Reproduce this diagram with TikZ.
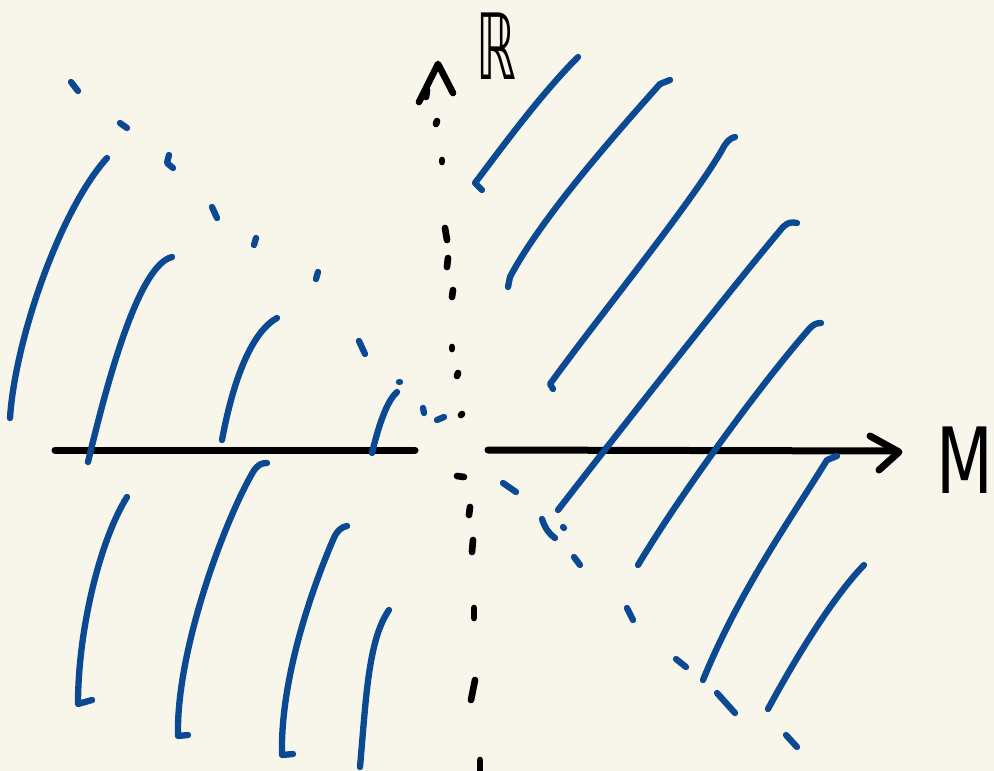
\documentclass[tikz,border=0pt]{standalone}
\usepackage{fontspec}
\usepackage{graphicx}
\usepackage{tikz}
\newfontfamily\handfont{DejaVu Sans}
\definecolor{paper}{HTML}{F8F6EB}
\definecolor{ink}{HTML}{0B4A92}

\begin{document}
\begin{tikzpicture}[x=0.3mm,y=-0.3mm,line cap=round,line join=round,
  axis/.style={black,line width=2.1mm},
  tick/.style={black,line width=2mm},
  fibre/.style={ink,line width=1.9mm},
  lbl/.style={inner sep=0pt,font=\handfont\fontsize{78}{78}\selectfont}]
  \fill[paper] (0,0) rectangle (994,771);
  \useasboundingbox (0,0) rectangle (994,771);
  % axes
  \coordinate (mL) at (55,450);
  \coordinate (mM) at (415,450);
  \coordinate (mN) at (488,450);
  \coordinate (mR) at (896,451);
  \draw[axis] (mL) -- (mM);
  \draw[axis] (mN) -- (mR);
  \draw[axis] (870,436) -- (899,452) -- (879,470);
  \draw[tick] (419,102) -- (438,64) -- (453,93);
  \draw[tick] (427,90) -- (426,97);
  \node[lbl] (lblR) at (496,46) {\scalebox{0.55}[1]{ℝ}};
  \node[lbl] (lblM) at (965,460) {\scalebox{0.72}[1]{M}};
  % dashed R axis
  \foreach \xa/\ya/\xb/\yb in {437/121/436/124,442/160/442/162,445/228/447/240,
      448/258/447/267,453/290/452/297,452/347/452/349,457/376/458/373,
      461/415/462/414,457/476/464/477,470/507/469/515,473/540/472/552,
      474/608/474/618,475/680/471/700,480/760/480/771}
    \draw[tick] (\xa,\ya) -- (\xb,\yb);
  % dashed blue diagonals
  \foreach \xa/\ya/\xb/\yb in {71/82/78/91,120/123/127/128,212/207/217/218,
      256/238/254/245,318/272/316/279,359/341/365/354,399/382/400/382,
      423/408/424/413,437/420/444/417,503/483/516/492,563/527/564/528,
      574/557/580/565,627/608/633/620,676/659/686/667,717/693/735/713,
      786/735/797/747}
    \draw[fibre] (\xa,\ya) -- (\xb,\yb);
  \draw[fibre] (169,155) -- (167,163) -- (173,168);
  \draw[fibre] (542,519) .. controls (545,528) and (549,534) .. (555,538);
  % upper left
  \draw[fibre] (10,418) .. controls (15,340) and (60,210) .. (107,158);
  \draw[fibre] (88,462) .. controls (110,370) and (140,265) .. (172,257);
  \draw[fibre] (222,440) .. controls (235,370) and (255,330) .. (277,318);
  \draw[fibre] (372,453) .. controls (380,420) and (388,400) .. (397,392);
  % lower left
  \draw[fibre] (92,700) -- (78,704) .. controls (78,630) and (100,540) .. (127,497);
  \draw[fibre] (188,735) -- (178,736) .. controls (176,650) and (225,520) .. (253,472)
    .. controls (258,464) and (262,463) .. (267,463);
  \draw[fibre] (293,754) -- (282,755) .. controls (280,670) and (320,570) .. (333,540)
    .. controls (337,530) and (342,527) .. (347,526);
  \draw[fibre] (360,767) .. controls (366,700) and (368,640) .. (389,610);
  % upper right
  \draw[fibre] (482,190) -- (475,183) .. controls (500,150) and (540,95) .. (578,57);
  \draw[fibre] (508,287) -- (510,277) .. controls (540,220) and (610,140) .. (660,84)
    -- (670,80);
  \draw[fibre] (553,389) -- (550,384) .. controls (600,315) and (690,205) .. (722,150)
    .. controls (726,142) and (730,138) .. (735,137);
  \draw[fibre] (558,510) .. controls (620,430) and (730,290) .. (783,227)
    .. controls (788,222) and (792,222) .. (797,223);
  \draw[fibre] (638,565) .. controls (680,495) and (760,385) .. (810,328)
    .. controls (814,324) and (817,323) .. (821,323);
  % lower right
  \draw[fibre] (703,680) .. controls (740,590) and (790,520) .. (827,460) -- (837,456);
  \draw[fibre] (768,709) .. controls (800,650) and (835,595) .. (864,565);
\end{tikzpicture}
\end{document}
